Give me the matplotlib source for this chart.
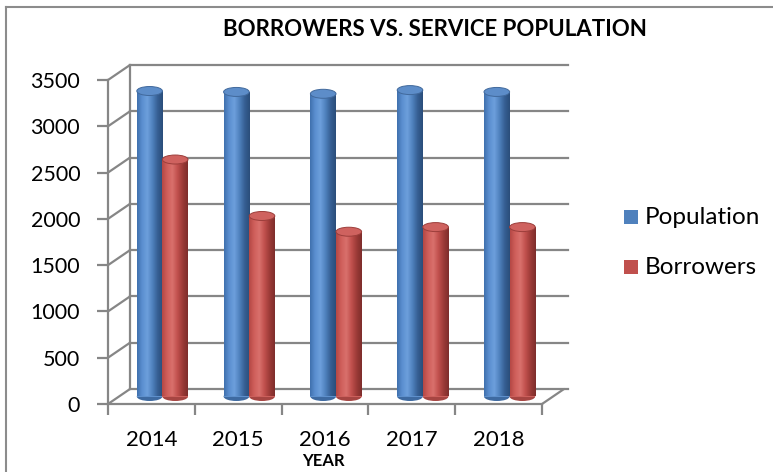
import numpy as np
import matplotlib
matplotlib.use("Agg")
import matplotlib.pyplot as plt
from matplotlib.transforms import ScaledTranslation
from matplotlib.patches import Ellipse, ConnectionPatch, Rectangle
from matplotlib.colors import LinearSegmentedColormap
from matplotlib.lines import Line2D

years = ["2014", "2015", "2016", "2017", "2018"]
population = [3300, 3290, 3270, 3310, 3290]
borrowers = [2560, 1950, 1780, 1830, 1830]
yticks = [0, 500, 1000, 1500, 2000, 2500, 3000, 3500]
series_names = ["Population", "Borrowers"]

FONT = "Lato"
plt.rcParams['font.family'] = [FONT, 'DejaVu Sans']

W, H = 773, 472
fig = plt.figure(figsize=(W / 100, H / 100), dpi=100)

# front plane of the 3D box (pixel coords)
x0p, x1p, ytop, ybot = 108, 542, 80, 404
ax = fig.add_axes([x0p / W, (H - ybot) / H, (x1p - x0p) / W, (ybot - ytop) / H])
ax.set_xlim(-0.5, 4.5)
ax.set_ylim(0, 3500)
ax.patch.set_alpha(0)
for s in ax.spines.values():
    s.set_visible(False)

grid_c = "#868686"
lw = 1.6
back = ax.transData + ScaledTranslation(22 / 100, 15 / 100, fig.dpi_scale_trans)
mid = ax.transData + ScaledTranslation(11 / 100, 7.5 / 100, fig.dpi_scale_trans)

# back wall gridlines
for v in yticks:
    ax.plot([-0.5, 4.55], [v, v], color=grid_c, lw=lw, transform=back, clip_on=False, zorder=1)
# back wall left vertical
ax.plot([-0.5, -0.5], [0, 3500], color=grid_c, lw=lw, transform=back, clip_on=False, zorder=1)
# side wall diagonals
for v in yticks:
    cp = ConnectionPatch((-0.5, v), (-0.5, v), coordsA=ax.transData, coordsB=back,
                         color=grid_c, lw=lw, zorder=1)
    ax.add_artist(cp)
# floor right diagonal
cp = ConnectionPatch((4.5, 0), (4.5, 0), coordsA=ax.transData, coordsB=back,
                     color=grid_c, lw=lw, zorder=1)
ax.add_artist(cp)
# front axes lines
ax.plot([-0.5, -0.5], [0, 3500], color=grid_c, lw=lw, clip_on=False, zorder=1)
ax.plot([-0.5, 4.5], [0, 0], color=grid_c, lw=lw, clip_on=False, zorder=1)

ax.set_yticks(yticks)
ax.set_yticklabels([str(v) for v in yticks], fontsize=15.5)
ax.tick_params(axis="y", length=8, width=lw, color=grid_c, pad=12)
ax.set_xticks(range(len(years)))
ax.set_xticklabels(years, fontsize=16)
ax.tick_params(axis="x", length=0, pad=19)
ax.set_xticks(np.arange(-0.5, 5, 1), minor=True)
ax.tick_params(axis="x", which="minor", length=8, width=lw, color=grid_c)

# cylinder bars
bw = 0.295
px_per_unit = (ybot - ytop) / 3500
ell_h = 9 / px_per_unit

cmaps = {
    "Population": LinearSegmentedColormap.from_list(
        "b", ["#3f70ad", "#5b8fd0", "#6d9fdc", "#4f81bd", "#365f93", "#2a4d7a"]),
    "Borrowers": LinearSegmentedColormap.from_list(
        "r", ["#b44744", "#cf5f5b", "#d9706c", "#c0504d", "#9b3a37", "#7d2d2b"]),
}
tops = {"Population": ("#5d8dc9", "#41699c"), "Borrowers": ("#cf625f", "#9c3e3b")}
bottoms = {"Population": "#3e6aa1", "Borrowers": "#a64542"}
grad = np.linspace(0, 1, 256).reshape(1, -1)

for si, (name, vals) in enumerate(zip(series_names, [population, borrowers])):
    xs = np.arange(len(years)) - bw / 2 + si * bw
    for x, v in zip(xs, vals):
        be = Ellipse((x, 0), bw, ell_h, transform=mid, facecolor=bottoms[name],
                     edgecolor="none", zorder=3 + si, clip_on=False)
        ax.add_patch(be)
        rect = ax.bar(x, v, width=bw, color=cmaps[name](0.5), transform=mid,
                      zorder=3 + si, clip_on=False)[0]
        im = ax.imshow(grad, cmap=cmaps[name], aspect="auto",
                       extent=[x - bw / 2, x + bw / 2, 0, v], transform=mid,
                       zorder=3.1 + si, interpolation="bilinear")
        im.set_clip_path(rect)
        te = Ellipse((x, v), bw, ell_h, transform=mid, facecolor=tops[name][0],
                     edgecolor=tops[name][1], lw=0.7, zorder=3.2 + si, clip_on=False)
        ax.add_patch(te)
ax.set_xlim(-0.5, 4.5)
ax.set_ylim(0, 3500)

# title and axis title
fig.text(435 / W, 1 - 30 / H, "BORROWERS VS. SERVICE POPULATION", ha="center", va="center",
         fontsize=16, fontweight="bold")
fig.text(323 / W, 1 - 461 / H, "YEAR", ha="center", va="center", fontsize=12, fontweight="bold")

# legend
for i, (name, col) in enumerate(zip(series_names, ["#4f81bd", "#c0504d"])):
    yc = 1 - (217 + i * 50) / H
    fig.patches.append(Rectangle((624 / W, yc - 7 / H), 14 / W, 14 / H, transform=fig.transFigure,
                                 facecolor=col, edgecolor="none"))
    fig.text(645 / W, yc, name, ha="left", va="center", fontsize=17.5)

# outer chart border (left and top)
fig.add_artist(Line2D([6 / W, 6 / W], [0, 1 - 7 / H], color="#8c8c8c", lw=1.5, transform=fig.transFigure))
fig.add_artist(Line2D([6 / W, 1], [1 - 7 / H, 1 - 7 / H], color="#8c8c8c", lw=1.5, transform=fig.transFigure))

fig.savefig("out.png", dpi=100)
